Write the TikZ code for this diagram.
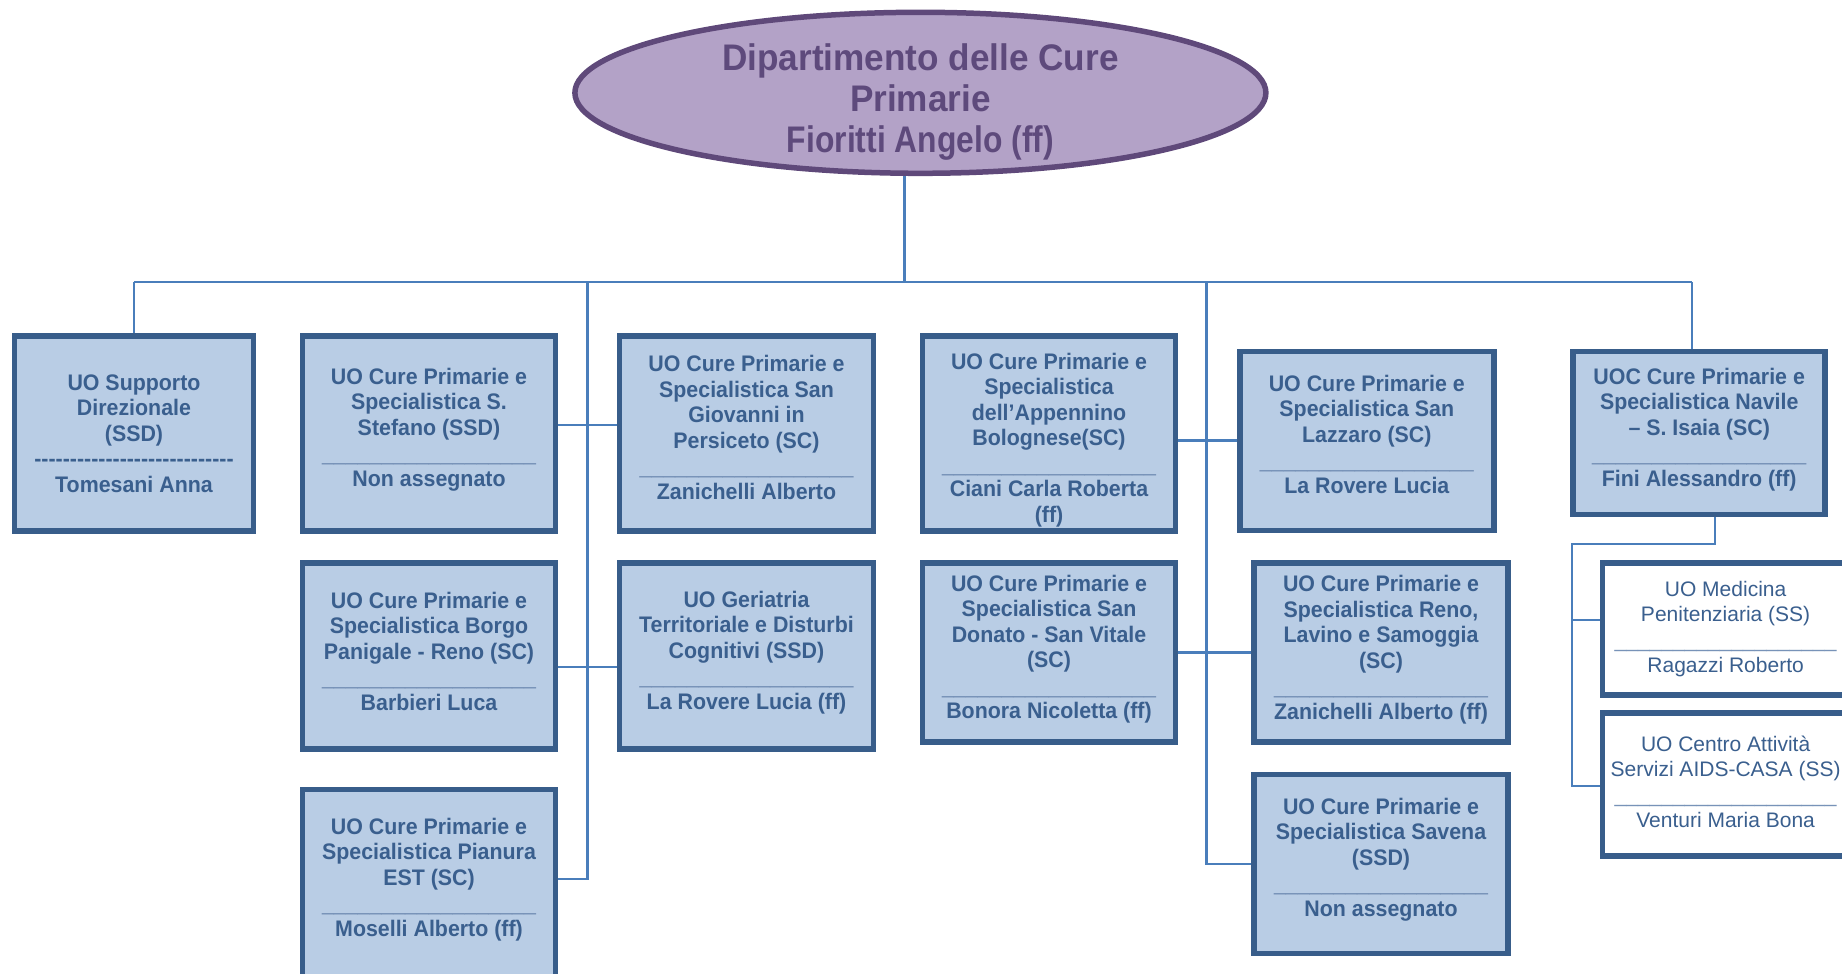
\documentclass[tikz,border=0pt]{standalone}
\usepackage{fontspec}
\setmainfont{Liberation Sans}
\newfontfamily\boxfont{Liberation Sans}[FakeStretch=0.95]
\newfontfamily\headnarrow{Liberation Sans}[FakeStretch=0.86]
\usetikzlibrary{shapes.geometric}
\definecolor{boxfill}{HTML}{B9CDE5}
\definecolor{boxdraw}{HTML}{385D8A}
\definecolor{boxtext}{HTML}{3A5F8E}
\definecolor{conn}{HTML}{4A7EBB}
\definecolor{sepc}{HTML}{7893B8}
\definecolor{ellfill}{HTML}{B3A2C7}
\definecolor{elldraw}{HTML}{5F497A}
\definecolor{elltext}{HTML}{5E4A7C}
\newcommand\sepu{{\mdseries\color{sepc}\_\_\_\_\_\_\_\_\_\_\_\_\_\_\_\_\_\_}}
\newcommand\sepv{{\color{sepc}\_\_\_\_\_\_\_\_\_\_\_\_\_\_\_\_\_\_\_}}
\newcommand\sepd{{-{}-{}-{}-{}-{}-{}-{}-{}-{}-{}-{}-{}-{}-{}-{}-{}-{}-{}-{}-{}-{}-{}-{}-{}-{}-{}-{}-}}
\tikzset{
 unit/.style={draw=boxdraw, line width=5.5pt, fill=boxfill, inner sep=0pt},
 subunit/.style={draw=boxdraw, line width=5.5pt, fill=white, inner sep=0pt},
 unittext/.style={text=boxtext, align=center, inner sep=0pt,
   font=\boxfont\bfseries\fontsize{22.5}{25.5}\selectfont},
 subtext/.style={text=boxtext, align=center, inner sep=0pt,
   font=\fontsize{21}{25.5}\selectfont},
 link/.style={draw=conn, line width=2.2pt},
}
\begin{document}
\begin{tikzpicture}[x=1pt,y=-1pt]
\useasboundingbox (0,0) rectangle (1842,974);
% head
\node[ellipse, draw=elldraw, line width=5.5pt, fill=ellfill,
  minimum width=691pt, minimum height=161pt, inner sep=0pt] (head) at (920.4,92.8) {};
\node[text=elltext, align=center, inner sep=0pt,
  font=\boxfont\bfseries\fontsize{37}{41}\selectfont] (headt) at ([yshift=-9pt]head.center)
  {Dipartimento delle Cure\\Primarie\\{\headnarrow Fioritti Angelo (ff)}};
% row 1
\node[unit, minimum width=239pt, minimum height=195pt] (A) at (134,433.5) {};
\node[unittext] (At) at (A.center)
  {UO Supporto\\Direzionale\\(SSD)\\\sepd\\Tomesani Anna};
\node[unit, minimum width=253pt, minimum height=195pt] (B) at (429,433.5) {};
\node[unittext] (Bt) at ([yshift=4pt]B.center)
  {UO Cure Primarie e\\Specialistica S.\\Stefano (SSD)\\\sepu\\Non assegnato};
\node[unit, minimum width=254pt, minimum height=195pt] (C) at (746.5,433.5) {};
\node[unittext] (Ct) at ([yshift=6pt]C.center)
  {UO Cure Primarie e\\Specialistica San\\Giovanni in\\Persiceto (SC)\\\sepu\\Zanichelli Alberto};
\node[unit, minimum width=253pt, minimum height=195pt] (D) at (1049,433.5) {};
\node[unittext] (Dt) at ([yshift=-6.5pt]D.center)
  {UO Cure Primarie e\\Specialistica\\dell’Appennino\\Bolognese(SC)\\\sepu\\Ciani Carla Roberta\\(ff)};
\node[unit, minimum width=254pt, minimum height=179pt] (E) at (1366.8,441) {};
\node[unittext] (Et) at ([yshift=7pt]E.center)
  {UO Cure Primarie e\\Specialistica San\\Lazzaro (SC)\\\sepu\\La Rovere Lucia};
\node[unit, minimum width=252pt, minimum height=163pt] (F) at (1699.2,433) {};
\node[unittext] (Ft) at ([yshift=3.5pt]F.center)
  {UOC Cure Primarie e\\Specialistica Navile\\– S. Isaia (SC)\\\sepu\\Fini Alessandro (ff)};
% row 2
\node[unit, minimum width=253pt, minimum height=186pt] (G) at (429,656) {};
\node[unittext] (Gt) at ([yshift=5pt]G.center)
  {UO Cure Primarie e\\Specialistica Borgo\\Panigale - Reno (SC)\\\sepu\\Barbieri Luca};
\node[unit, minimum width=254pt, minimum height=186pt] (H) at (746.5,656) {};
\node[unittext] (Ht) at ([yshift=3.5pt]H.center)
  {UO Geriatria\\Territoriale e Disturbi\\Cognitivi (SSD)\\\sepu\\La Rovere Lucia (ff)};
\node[unit, minimum width=253pt, minimum height=179pt] (I) at (1049,652.5) {};
\node[unittext] (It) at ([yshift=3.5pt]I.center)
  {UO Cure Primarie e\\Specialistica San\\Donato - San Vitale\\(SC)\\\sepu\\Bonora Nicoletta (ff)};
\node[unit, minimum width=254pt, minimum height=179pt] (J) at (1381,652.5) {};
\node[unittext] (Jt) at ([yshift=3pt]J.center)
  {UO Cure Primarie e\\Specialistica Reno,\\Lavino e Samoggia\\(SC)\\\sepu\\Zanichelli Alberto (ff)};
% row 3
\node[unit, minimum width=254pt, minimum height=179pt] (K) at (1381,864) {};
\node[unittext] (Kt) at ([yshift=4.5pt]K.center)
  {UO Cure Primarie e\\Specialistica Savena\\(SSD)\\\sepu\\Non assegnato};
\node[unit, minimum width=253pt, minimum height=195pt] (L) at (429,887) {};
\node[unittext] (Lt) at ([yshift=7.5pt]L.center)
  {UO Cure Primarie e\\Specialistica Pianura\\EST (SC)\\\sepu\\Moselli Alberto (ff)};
% sub units
\node[subunit, minimum width=246pt, minimum height=132pt] (M) at (1725.6,629) {};
\node[subtext] (Mt) at (M.center)
  {UO Medicina\\Penitenziaria (SS)\\\sepv\\Ragazzi Roberto};
\node[subunit, minimum width=246pt, minimum height=143pt] (N) at (1725.6,784.7) {};
\node[subtext] (Nt) at ([yshift=3pt]N.center)
  {UO Centro Attività\\Servizi AIDS-CASA (SS)\\\sepv\\Venturi Maria Bona};
% connectors
\coordinate (top) at (904.5,282);
\coordinate (busL) at (134,282);
\coordinate (busR) at (1692,282);
\coordinate (lt) at (587.4,282);
\coordinate (ltb) at (587.4,878.7);
\coordinate (rt) at (1206.4,282);
\coordinate (rtb) at (1206.4,864);
\coordinate (bc) at (587.4,425.2);
\coordinate (gh) at (587.4,667.2);
\coordinate (de) at (1206.4,440.5);
\coordinate (ns) at (1715,543.9);
\coordinate (nsl) at (1571.8,543.9);
\coordinate (nsm) at (1571.8,620.2);
\coordinate (nsb) at (1571.8,785.9);
\draw[link] (head.south -| top) -- (top);
\draw[link] (busL) -- (busR);
\draw[link] (busL) -- (A.north);
\draw[link] (busR) -- (busR |- F.north);
\draw[link] (lt) -- (ltb) -- (ltb -| L.east);
\draw[link] (bc -| B.east) -- (bc -| C.west);
\draw[link] (gh -| G.east) -- (gh -| H.west);
\draw[link] (rt) -- (rtb) -- (K.west);
\draw[link] (de -| D.east) -- (de -| E.west);
\draw[link] (I.east) -- (J.west);
\draw[link] (ns |- F.south) -- (ns) -- (nsl) -- (nsb) -- (nsb -| N.west);
\draw[link] (nsm) -- (nsm -| M.west);
\end{tikzpicture}
\end{document}
